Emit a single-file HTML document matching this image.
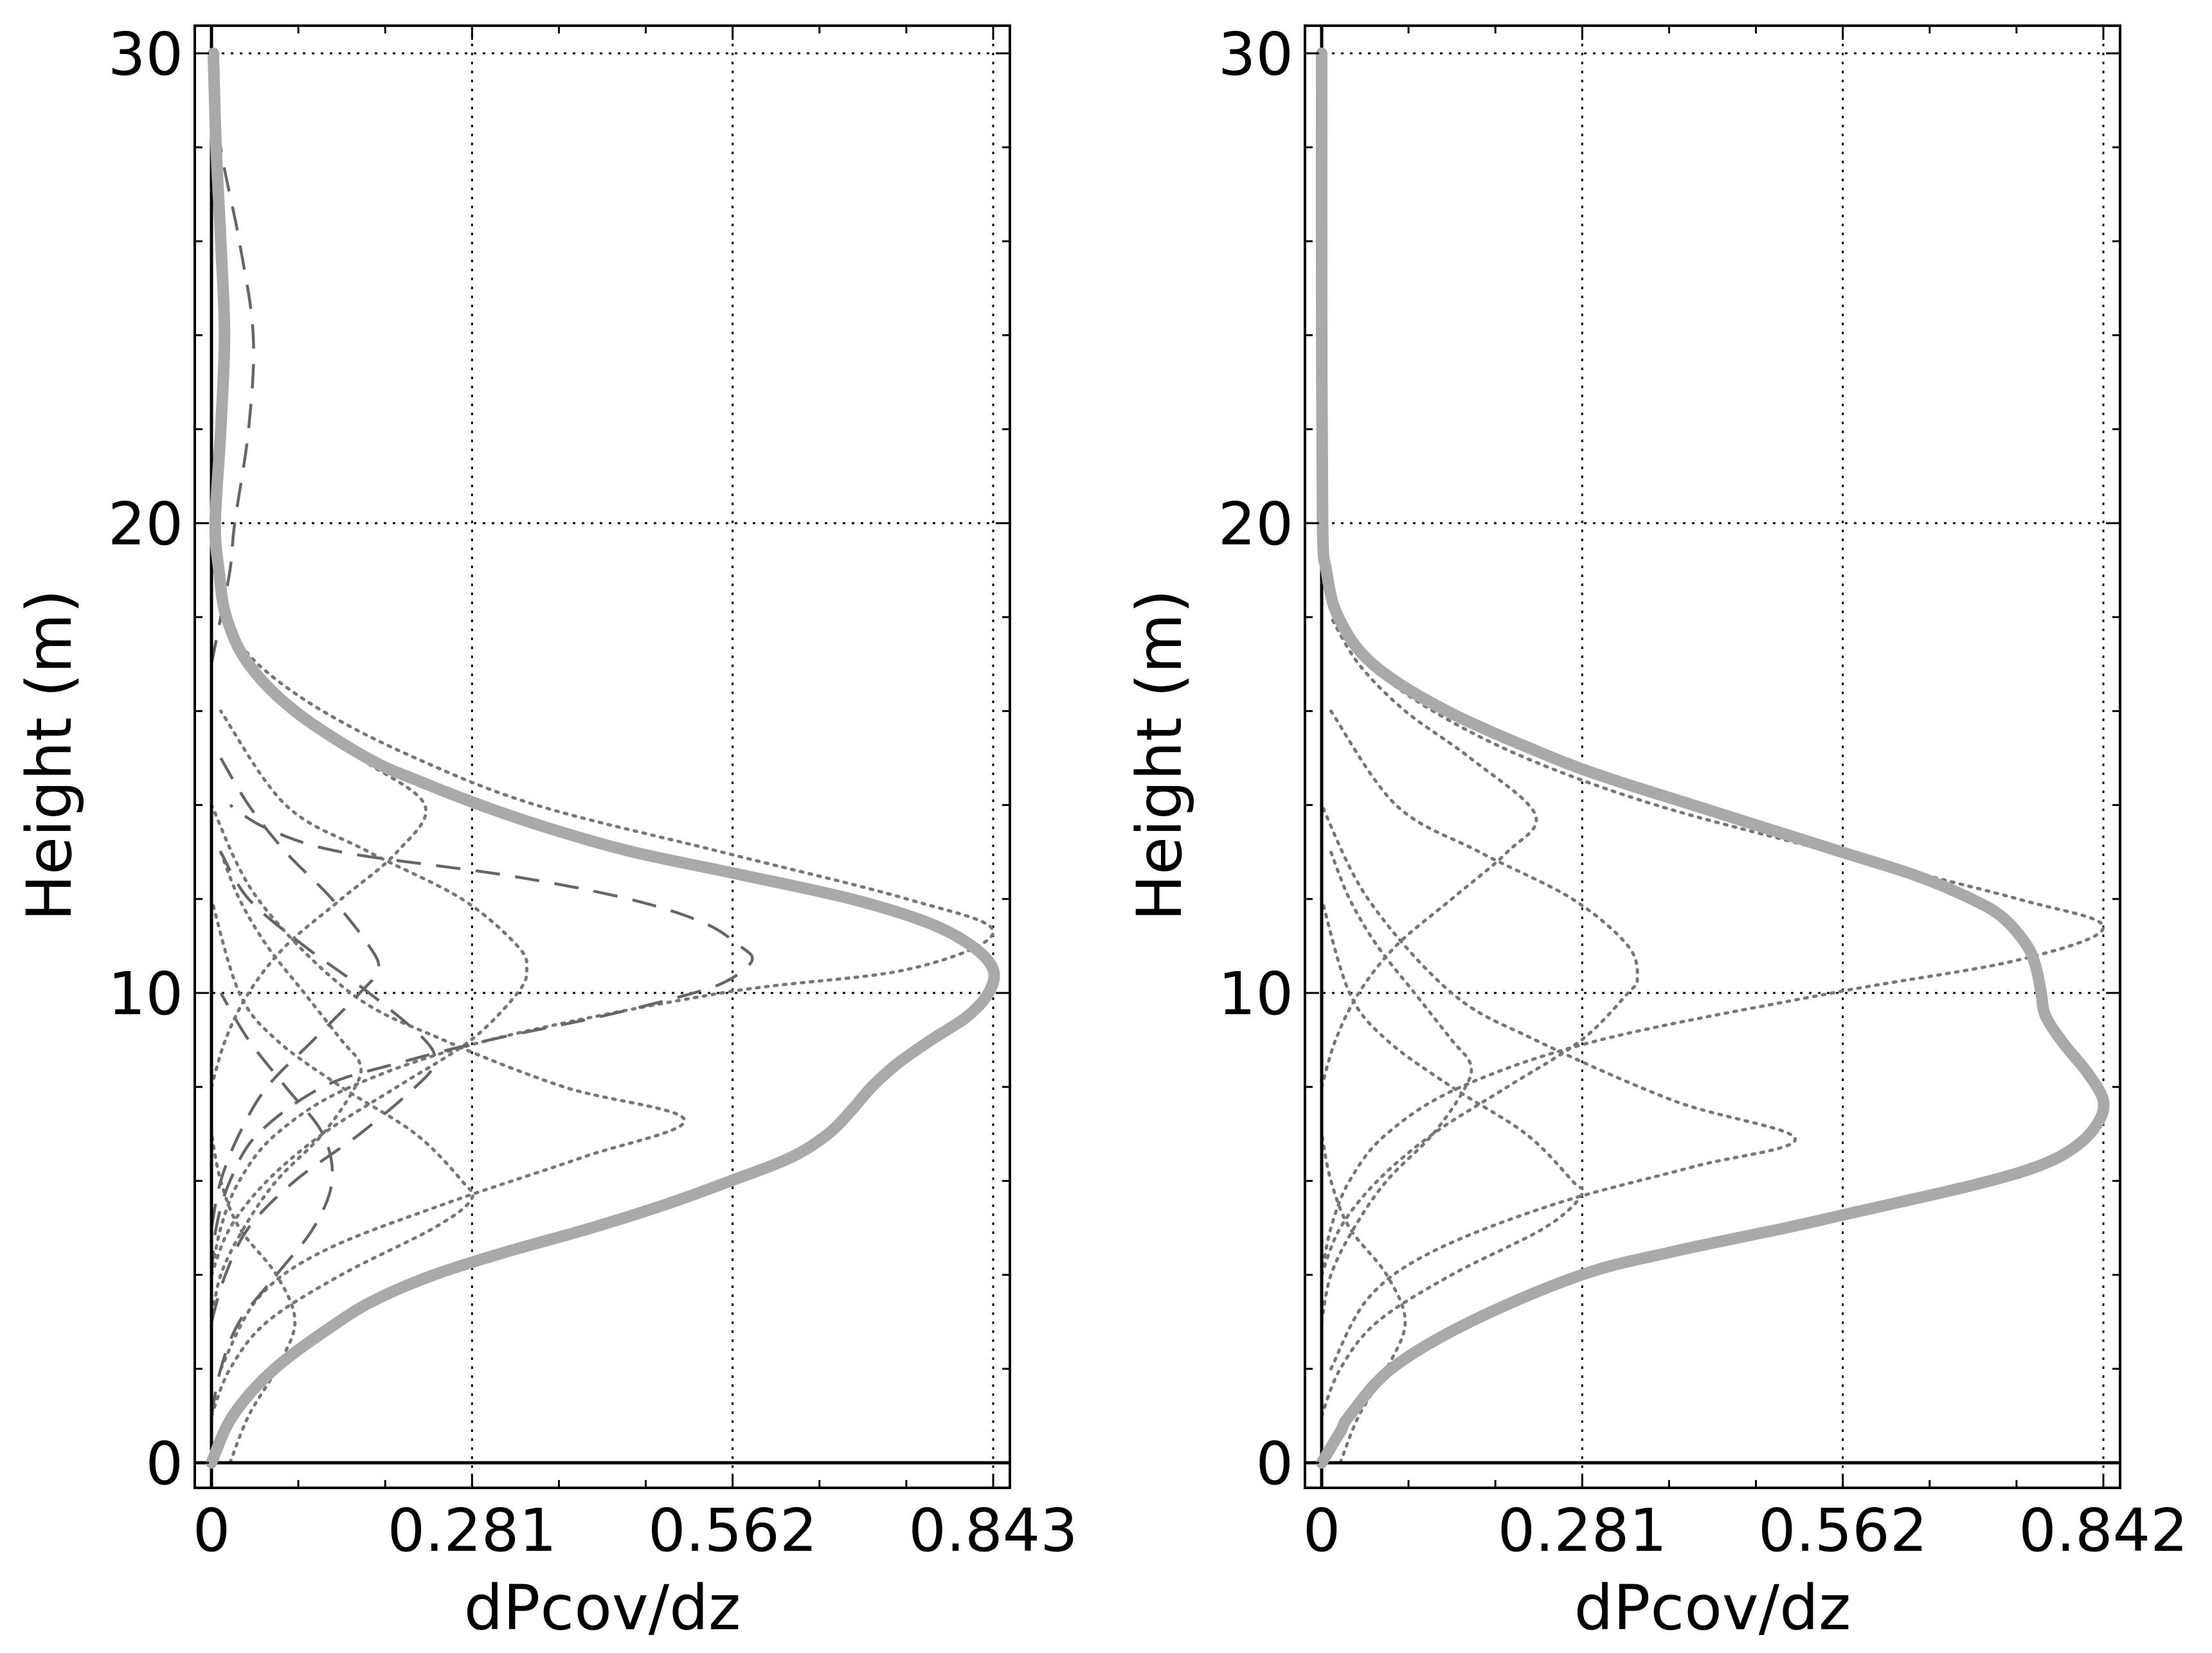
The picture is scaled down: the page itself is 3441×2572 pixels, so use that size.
<!DOCTYPE html>
<html><head><meta charset="utf-8"><style>
html,body{margin:0;padding:0;background:#fff;}
svg{display:block;}
text{font-family:"DejaVu Sans","Liberation Sans",sans-serif;fill:#000;}
</style></head><body>
<svg id="fig" width="3441" height="2572" viewBox="0 0 3441 2572" xmlns="http://www.w3.org/2000/svg"></svg>
<script>
// ---- data (value, height) ----
const leftThickY = [0,1,2,3,3.5,4,4.5,5,5.5,6,6.5,7,7.5,8,8.5,9,9.5,10,10.5,11,11.5,12,12.5,13,13.5,14,14.5,15,16,17,18,19,20,22,24,26,28,30];
const leftThickX = [0,0.023,0.068,0.137,0.18,0.24,0.32,0.41,0.49,0.56,0.625,0.665,0.69,0.712,0.74,0.776,0.815,0.838,0.843,0.82,0.772,0.69,0.575,0.455,0.365,0.29,0.225,0.168,0.09,0.04,0.016,0.008,0.004,0.01,0.014,0.01,0.005,0.002];
const rightThickY = [0,0.66,1,2,3,4,4.5,5,5.3,5.9,6.3,6.7,7.2,7.7,8.3,8.9,9.5,10,10.5,11,11.6,12,12.5,13,13.5,14,14.5,15,16,17,18,19,20,25,30];
const rightThickX = [0,0.02,0.03,0.075,0.16,0.28,0.38,0.5,0.567,0.70,0.77,0.81,0.835,0.842,0.825,0.80,0.78,0.775,0.77,0.76,0.734,0.70,0.64,0.56,0.48,0.40,0.32,0.25,0.135,0.055,0.018,0.005,0.001,0,0];

const leftDottedY = [
 [4,5,6,7,8,9,10,10.5,11.3,12,13,14,15,16,17,18],
 [2,3.5,4.5,5.5,6.5,7.3,8,9,10,12,14],
 [4,5,6,7,8,9,10,10.5,11,12,13,14,16],
 [1,2,3,4,5,5.6,6,7,8,9,10,12],
 [8,9,10,11,12,13,14,15,16,17,18],
 [0,1,2,3,4,5,6,7],
 [3,4,5,6,7,8,8.5,9,10,11,12,13]
];
const leftDottedX = [
 [0,0.01,0.03,0.07,0.15,0.3,0.55,0.75,0.843,0.75,0.55,0.35,0.22,0.12,0.05,0.01],
 [0.01,0.05,0.12,0.25,0.4,0.51,0.38,0.25,0.15,0.05,0],
 [0,0.02,0.06,0.12,0.2,0.28,0.33,0.34,0.33,0.27,0.17,0.08,0.01],
 [0,0.02,0.06,0.14,0.24,0.28,0.27,0.22,0.14,0.07,0.03,0],
 [0,0.015,0.04,0.08,0.14,0.2,0.23,0.16,0.09,0.04,0.01],
 [0.02,0.04,0.07,0.09,0.07,0.03,0.01,0],
 [0,0.01,0.035,0.07,0.12,0.155,0.16,0.14,0.1,0.06,0.03,0.01]
];
const leftDashedY = [
 [4,5,6,7,8,8.5,9,9.5,10,10.3,10.7,11,11.5,12,12.5,13,13.5,14],
 [5,6,7,8,9,10,10.5,11,12,13,14,15],
 [3,4,5,6,7,8,8.5,9,10,11,12,13],
 [1,2,3,4,5,6,7,8,9,10],
 [17,18,19,20,22,24,26,28,30]
];
const leftDashedX = [
 [0,0.005,0.02,0.05,0.12,0.2,0.3,0.42,0.52,0.56,0.583,0.57,0.53,0.45,0.32,0.14,0.06,0.02],
 [0,0.01,0.03,0.06,0.11,0.16,0.18,0.17,0.13,0.08,0.04,0.01],
 [0,0.015,0.04,0.09,0.16,0.22,0.24,0.23,0.17,0.1,0.04,0.01],
 [0,0.01,0.03,0.07,0.11,0.13,0.12,0.08,0.04,0.01],
 [0,0.01,0.02,0.025,0.04,0.045,0.03,0.01,0]
];
const rightDottedY = [
 [4,5,6,7,8,9,10,10.7,11.4,12,13,14,15,16,17,18],
 [2,3.5,4.5,5.5,6.3,6.9,7.7,9,10,12,14],
 [4,5,6,7,8,9,10,10.3,11,12,13,14,16],
 [1,2,3,4,5,5.7,6,7,8,9,10,12],
 [8,9,10,11,12,13,13.8,15,16,17,18],
 [0,1,2,3,4,5,6,7],
 [3,4,5,6,7,8,8.5,9,10,11,12,13]
];
const rightDottedX = [
 [0,0.01,0.03,0.07,0.15,0.3,0.55,0.75,0.842,0.75,0.55,0.36,0.22,0.12,0.05,0.01],
 [0.01,0.05,0.12,0.25,0.4,0.51,0.38,0.23,0.14,0.05,0],
 [0,0.02,0.06,0.12,0.2,0.28,0.33,0.34,0.33,0.27,0.17,0.08,0.01],
 [0,0.02,0.06,0.14,0.24,0.28,0.27,0.22,0.14,0.07,0.03,0],
 [0,0.015,0.04,0.08,0.14,0.2,0.23,0.16,0.09,0.04,0.01],
 [0.02,0.04,0.07,0.09,0.07,0.03,0.01,0],
 [0,0.01,0.035,0.07,0.12,0.155,0.16,0.14,0.1,0.06,0.03,0.01]
];
const leftXTicks = ["0","0.281","0.562","0.843"];
const rightXTicks = ["0","0.281","0.562","0.842"];
const yTickLabels = ["0","10","20","30"];

const NS = "http://www.w3.org/2000/svg";
const svg = document.getElementById('fig');
function mk(tag, attrs, parent){ const e=document.createElementNS(NS,tag); for(const k in attrs) e.setAttribute(k,attrs[k]); (parent||svg).appendChild(e); return e; }

function smoothPath(pts){
  let d = "M"+pts[0][0].toFixed(1)+","+pts[0][1].toFixed(1);
  for(let i=0;i<pts.length-1;i++){
    const p0=pts[Math.max(i-1,0)], p1=pts[i], p2=pts[i+1], p3=pts[Math.min(i+2,pts.length-1)];
    const c1=[p1[0]+(p2[0]-p0[0])/6, p1[1]+(p2[1]-p0[1])/6];
    const c2=[p2[0]-(p3[0]-p1[0])/6, p2[1]-(p3[1]-p1[1])/6];
    d+=" C"+c1[0].toFixed(1)+","+c1[1].toFixed(1)+" "+c2[0].toFixed(1)+","+c2[1].toFixed(1)+" "+p2[0].toFixed(1)+","+p2[1].toFixed(1);
  }
  return d;
}

function panel(cfg){
  const g = mk('g',{});
  
  
  const xL=cfg.boxL, xR=cfg.boxR, yT=40, yB=2315;
  const xmax=cfg.xmax;
  const X = v => cfg.x0 + v/xmax*1216;
  const Y = h => 2276 - h*73.1;
  for(let i=1;i<4;i++){
    const gl=mk('line',{x1:X(xmax*i/3),x2:X(xmax*i/3),y1:yT,y2:yB,stroke:'#000','stroke-width':3,'stroke-dasharray':'4 10'},g);
    
    
    const hl=mk('line',{x1:xL,x2:xR,y1:Y(i*10),y2:Y(i*10),stroke:'#000','stroke-width':3,'stroke-dasharray':'4 10'},g);
    
    
  }
  function draw(ys, xs, style, name){
    const pts = ys.map((h,i)=>[X(xs[i]),Y(h)]);
    const p = mk('path',Object.assign({d:smoothPath(pts),fill:'none'},style),g);
    
    
  }
  cfg.dottedY.forEach((ys,i)=>draw(ys,cfg.dottedX[i],{stroke:'#777','stroke-width':5,'stroke-dasharray':'4 10','stroke-linecap':'round'},'dotted-component-'+(i+1)));
  (cfg.dashedY||[]).forEach((ys,i)=>draw(ys,cfg.dashedX[i],{stroke:'#666','stroke-width':4.5,'stroke-dasharray':'38 24'},'dashed-component-'+(i+1)));
  const zx=mk('line',{x1:X(0),x2:X(0),y1:yT,y2:yB,stroke:'#000','stroke-width':5},g);
   
  const zy=mk('line',{x1:xL,x2:xR,y1:Y(0),y2:Y(0),stroke:'#000','stroke-width':5},g);
   
  draw(cfg.thickY,cfg.thickX,{stroke:'#a9a9a9','stroke-width':18,'stroke-linejoin':'round','stroke-linecap':'round'},'total-curve');
  const fr=mk('rect',{x:xL,y:yT,width:xR-xL,height:yB-yT,fill:'none',stroke:'#000','stroke-width':4},g);
   
  for(let i=0;i<=9;i++){
    const v=xmax*i/9, len=(i%3===0)?22:12;
    mk('line',{x1:X(v),x2:X(v),y1:yB,y2:yB-len,stroke:'#000','stroke-width':3},g);
    mk('line',{x1:X(v),x2:X(v),y1:yT,y2:yT+len,stroke:'#000','stroke-width':3},g);
  }
  for(let h=0;h<=30;h+=2){
    const len=(h%10===0)?22:12;
    mk('line',{x1:xL,x2:xL+len,y1:Y(h),y2:Y(h),stroke:'#000','stroke-width':3},g);
    mk('line',{x1:xR,x2:xR-len,y1:Y(h),y2:Y(h),stroke:'#000','stroke-width':3},g);
  }
  cfg.xTicks.forEach((t,i)=>{
    const tx=mk('text',{x:X(xmax*i/3),y:2413,'font-size':92,'text-anchor':'middle'},g);
    tx.textContent=t;
    
    
  });
  yTickLabels.forEach((t,i)=>{
    const ty=mk('text',{x:xL-18,y:Y(i*10)+33,'font-size':92,'text-anchor':'end'},g);
    ty.textContent=t;
    
    
  });
  const xl=mk('text',{x:(xL+xR)/2,y:2535,'font-size':96,'text-anchor':'middle'},g);
  xl.textContent='dPcov/dz';
  
  
  const yl=mk('text',{x:0,y:0,'font-size':96,'text-anchor':'middle',transform:'translate('+(cfg.ylabX)+',1175) rotate(-90)'},g);
  yl.textContent='Height (m)';
  
  
}

panel({name:'left-panel',boxL:303,boxR:1571,x0:329,xmax:0.843,thickY:leftThickY,thickX:leftThickX,dottedY:leftDottedY,dottedX:leftDottedX,dashedY:leftDashedY,dashedX:leftDashedX,xTicks:leftXTicks,ylabX:110});
panel({name:'right-panel',boxL:2030,boxR:3298,x0:2056,xmax:0.842,thickY:rightThickY,thickX:rightThickX,dottedY:rightDottedY,dottedX:rightDottedX,xTicks:rightXTicks,ylabX:1837});
</script>
</body></html>
